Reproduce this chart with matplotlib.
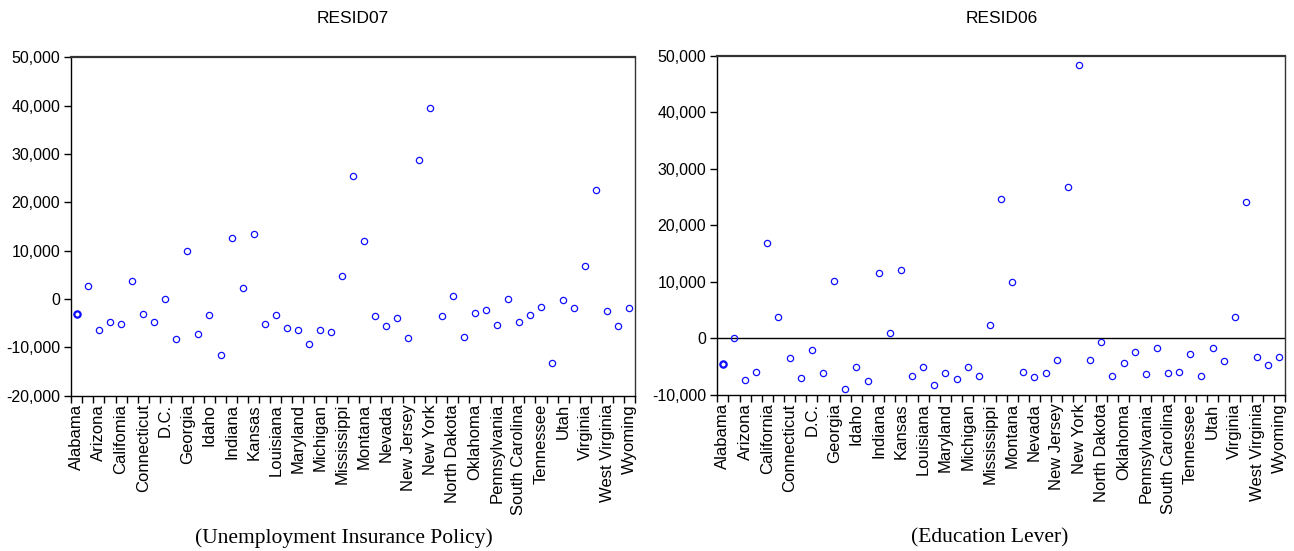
import numpy as np
import matplotlib.pyplot as plt
from matplotlib.ticker import FuncFormatter

states = ["Alabama", "Alaska", "Arizona", "Arkansas", "California", "Colorado",
          "Connecticut", "Delaware", "D.C.", "Florida", "Georgia", "Hawaii",
          "Idaho", "Illinois", "Indiana", "Iowa", "Kansas", "Kentucky",
          "Louisiana", "Maine", "Maryland", "Massachusetts", "Michigan",
          "Minnesota", "Mississippi", "Missouri", "Montana", "Nebraska",
          "Nevada", "New Hampshire", "New Jersey", "New Mexico", "New York",
          "North Carolina", "North Dakota", "Ohio", "Oklahoma", "Oregon",
          "Pennsylvania", "Rhode Island", "South Carolina", "South Dakota",
          "Tennessee", "Texas", "Utah", "Vermont", "Virginia", "Washington",
          "West Virginia", "Wisconsin", "Wyoming"]

# left panel spells California as "Califomia"
labels07 = [s if s != "California" else "Califomia" for s in states[::2]]
labels06 = states[::2]

resid07 = [-3040, 2690, -6480, -4690, -5100, 3660, -3180, -4690, 60, -8280,
           9940, -7250, -3240, -11660, 12630, 2210, 13530, -5240, -3310, -6070,
           -6420, -9320, -6490, -6760, 4830, 25400, 12010, -3590, -5660, -4000,
           -8000, 28700, 39610, -3590, 550, -7870, -2970, -2280, -5380, 70,
           -4830, -3380, -1730, -13250, -140, -1790, 6770, 22500, -2480, -5660,
           -1930]

resid06 = [-4490, 0, -7430, -5900, 16850, 3770, -3540, -7020, -2010, -6190,
           10080, -8970, -5020, -7550, 11490, 990, 12020, -6550, -5130, -8200,
           -6140, -7200, -5020, -6550, 2300, 24580, 9900, -6010, -6840, -6140,
           -3890, 26700, 48380, -3840, -600, -6550, -4370, -2420, -6310, -1770,
           -6190, -6010, -2720, -6720, -1770, -3960, 3770, 24050, -3310, -4780,
           -3310]

plt.rcParams['font.family'] = ['Liberation Sans', 'DejaVu Sans']

fig = plt.figure(figsize=(12.94, 5.51), dpi=100)
ax1 = fig.add_axes([0.0551, 0.2819, 0.4356, 0.6141])
ax2 = fig.add_axes([0.5543, 0.2831, 0.4387, 0.6158])

x = np.arange(1, len(states) + 1)
fmt = FuncFormatter(lambda v, p: f"{int(v):,}")


def draw(ax, y, ylim, labels, zero_line):
    if zero_line:
        ax.axhline(0, color='black', lw=1.0, zorder=1)
    ax.plot(x, y, 'o', mfc='none', mec='#1010ff', ms=4.5, mew=0.9, zorder=3)
    ax.plot(x[:1], y[:1], 'o', mfc='none', mec='#1010ff', ms=4.5, mew=1.6, zorder=3)
    ax.set_xlim(0.5, 51.5)
    ax.set_ylim(*ylim)
    ax.set_yticks(np.arange(ylim[0], ylim[1] + 1, 10000))
    ax.yaxis.set_major_formatter(fmt)
    ax.set_xticks(x[::2])
    ax.set_xticklabels(labels, rotation=90)
    ax.set_xticks(np.arange(0.5, 52, 1), minor=True)
    ax.tick_params(axis='x', which='major', length=0, pad=6, labelsize=12)
    ax.tick_params(axis='x', which='minor', length=5, width=1)
    ax.tick_params(axis='y', length=5, width=1, pad=3, labelsize=11.5)
    for s in ax.spines.values():
        s.set_linewidth(1.0)
    ax.spines['top'].set_linewidth(1.6)
    ax.spines['top'].set_color('#333333')
    ax.spines['right'].set_color('#333333')


draw(ax1, resid07, (-20000, 50000), labels07, False)
draw(ax2, resid06, (-10000, 50000), labels06, True)

fig.text(0.2729, 0.967, "RESID07", ha='center', va='center', fontsize=12.5)
fig.text(0.7740, 0.967, "RESID06", ha='center', va='center', fontsize=12.5)

fig.text(0.266, 0.024, "(Unemployment Insurance Policy)", ha='center',
         va='center', fontsize=15.5, family='Liberation Serif')
fig.text(0.765, 0.024, "(Education Lever)", ha='center', va='center',
         fontsize=15.5, family='Liberation Serif')

fig.savefig("out.png", dpi=100)
